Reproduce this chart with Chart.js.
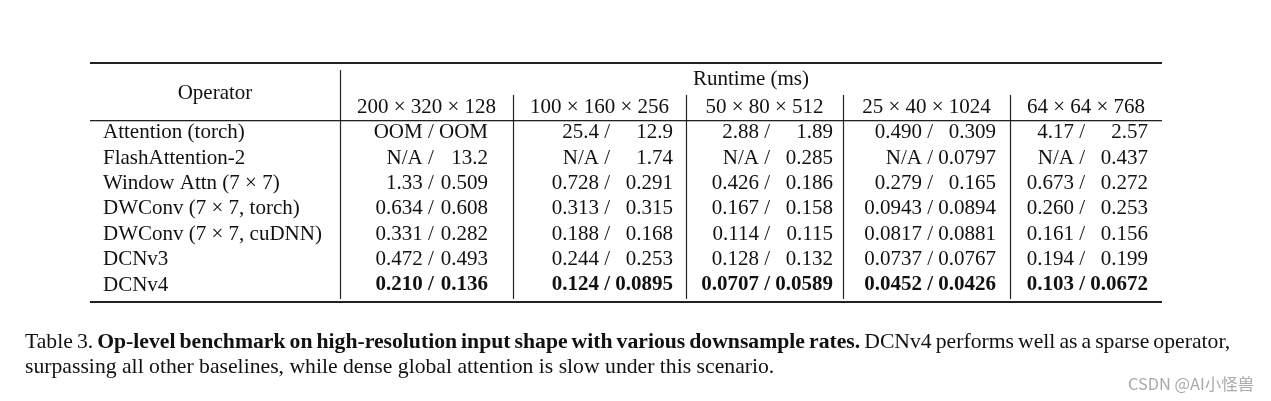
<!DOCTYPE html>
<html>
<head>
<meta charset="utf-8">
<script src="https://cdn.jsdelivr.net/npm/chart.js@4.4.1/dist/chart.umd.min.js"></script>
<style>
  html, body { margin: 0; padding: 0; background: #fff; }
  #wrap { position: relative; width: 1271px; height: 401px; overflow: hidden; }
  #table { position: absolute; left: 0; top: 0; }
  .caption {
    position: absolute; left: 25px; top: 329px;
    font: 21.7px 'Liberation Serif', serif; color: #111;
    line-height: 25px; white-space: nowrap;
  }
  .caption .l1 { word-spacing: -1.4px; }
  .mark {
    position: absolute; left: 1128px; top: 371px;
    font: 16.4px 'Noto Sans CJK SC', sans-serif; color: #a9a9a9;
  }
</style>
</head>
<body>
<div id="wrap">
  <canvas id="table" width="1271" height="401"></canvas>
  <div class="caption"><span class="l1">Table 3. <b>Op-level benchmark on high-resolution input shape with various downsample rates.</b> DCNv4 performs well as a sparse operator,</span><br>surpassing all other baselines, while dense global attention is slow under this scenario.</div>
  <div class="mark">CSDN @AI小怪兽</div>
</div>
<script>
// Table content
const operators = [
  'Attention (torch)',
  'FlashAttention-2',
  'Window Attn (7 × 7)',
  'DWConv (7 × 7, torch)',
  'DWConv (7 × 7, cuDNN)',
  'DCNv3',
  'DCNv4',
];
const shapes = ['200 × 320 × 128', '100 × 160 × 256', '50 × 80 × 512', '25 × 40 × 1024', '64 × 64 × 768'];

// runtime pairs "a / b" per input shape, one entry per operator
const shape200 = [['OOM', 'OOM'], ['N/A', '13.2'], ['1.33', '0.509'], ['0.634', '0.608'], ['0.331', '0.282'], ['0.472', '0.493'], ['0.210', '0.136']];
const shape100 = [['25.4', '12.9'], ['N/A', '1.74'], ['0.728', '0.291'], ['0.313', '0.315'], ['0.188', '0.168'], ['0.244', '0.253'], ['0.124', '0.0895']];
const shape50 = [['2.88', '1.89'], ['N/A', '0.285'], ['0.426', '0.186'], ['0.167', '0.158'], ['0.114', '0.115'], ['0.128', '0.132'], ['0.0707', '0.0589']];
const shape25 = [['0.490', '0.309'], ['N/A', '0.0797'], ['0.279', '0.165'], ['0.0943', '0.0894'], ['0.0817', '0.0881'], ['0.0737', '0.0767'], ['0.0452', '0.0426']];
const shape64 = [['4.17', '2.57'], ['N/A', '0.437'], ['0.673', '0.272'], ['0.260', '0.253'], ['0.161', '0.156'], ['0.194', '0.199'], ['0.103', '0.0672']];
const runtimes = [shape200, shape100, shape50, shape25, shape64];
const boldRows = ['DCNv4'];

// Layout (table units = px inside the table box)
const COL_EDGES = [0, 250, 423, 596, 753, 920, 1072];
const VALUE_RIGHT = [398, 583, 743, 906, 1058];
const OP_LEFT = 13;

const FONT = '21px "Liberation Serif", serif';
const FONT_BOLD = 'bold 21px "Liberation Serif", serif';
const INK = '#111';
const RULE = '#222';

const datasets = runtimes.map((cells, c) => ({
  label: shapes[c],
  cells,
  data: operators.map((op, i) => ({ x: VALUE_RIGHT[c], y: i })),
  pointRadius: 0,
  pointHoverRadius: 0,
}));
datasets.push({
  label: 'Operator',
  isOperator: true,
  data: operators.map((op, i) => ({ x: OP_LEFT, y: i })),
  pointRadius: 0,
  pointHoverRadius: 0,
});

const tablePlugin = {
  id: 'tablePlugin',
  afterDatasetsDraw(chart) {
    const { ctx, chartArea, scales: { x, y } } = chart;
    ctx.save();
    ctx.fillStyle = INK;
    ctx.textBaseline = 'middle';

    // horizontal rules
    function hRule(py, w) {
      ctx.fillStyle = RULE;
      ctx.fillRect(chartArea.left, Math.round(py - w / 2), chartArea.right - chartArea.left, w);
    }
    hRule(chartArea.top + 1, 2);
    hRule(y.getPixelForValue(-0.47), 1.3);
    hRule(chartArea.bottom - 1, 2);

    // vertical rules
    ctx.strokeStyle = RULE;
    ctx.lineWidth = 1.2;
    COL_EDGES.slice(1, -1).forEach((edge, k) => {
      const px = Math.round(x.getPixelForValue(edge)) + 0.5;
      ctx.beginPath();
      ctx.moveTo(px, y.getPixelForValue(k === 0 ? -2.48 : -1.5));
      ctx.lineTo(px, y.getPixelForValue(6.55));
      ctx.stroke();
    });

    // headers
    ctx.fillStyle = INK;
    ctx.font = FONT;
    ctx.textAlign = 'center';
    const mid = (a, b) => (x.getPixelForValue(a) + x.getPixelForValue(b)) / 2;
    ctx.fillText('Operator', mid(COL_EDGES[0], COL_EDGES[1]), y.getPixelForValue(-1.55));
    ctx.fillText('Runtime (ms)', mid(COL_EDGES[1], COL_EDGES[6]), y.getPixelForValue(-2.1));
    shapes.forEach((s, c) => {
      ctx.fillText(s, mid(COL_EDGES[c + 1], COL_EDGES[c + 2]), y.getPixelForValue(-1));
    });

    // body cells
    chart.data.datasets.forEach((ds, d) => {
      const meta = chart.getDatasetMeta(d);
      if (ds.isOperator) {
        ctx.textAlign = 'left';
        ctx.font = FONT;
        meta.data.forEach((pt, i) => ctx.fillText(operators[i], pt.x, pt.y));
        return;
      }
      // right halves are padded to the widest one in the column
      let padW = 0;
      ds.cells.forEach((cell, i) => {
        ctx.font = boldRows.includes(operators[i]) ? FONT_BOLD : FONT;
        padW = Math.max(padW, ctx.measureText(cell[1]).width);
      });
      ctx.textAlign = 'right';
      meta.data.forEach((pt, i) => {
        const [a, b] = ds.cells[i];
        ctx.font = boldRows.includes(operators[i]) ? FONT_BOLD : FONT;
        const space = ctx.measureText(' ').width;
        ctx.fillText(b, pt.x, pt.y);
        ctx.fillText(a + ' /', pt.x - padW - space, pt.y);
      });
    });
    ctx.restore();
  }
};

new Chart(document.getElementById('table'), {
  type: 'scatter',
  data: { datasets },
  options: {
    responsive: false,
    animation: false,
    events: [],
    layout: { padding: { left: 90, right: 109, top: 62, bottom: 98 } },
    scales: {
      x: { type: 'linear', min: COL_EDGES[0], max: COL_EDGES[COL_EDGES.length - 1], display: false },
      y: { type: 'linear', reverse: true, min: -2.8, max: 6.71, display: false },
    },
    plugins: { legend: { display: false }, tooltip: { enabled: false } },
  },
  plugins: [tablePlugin],
});
</script>
</body>
</html>
